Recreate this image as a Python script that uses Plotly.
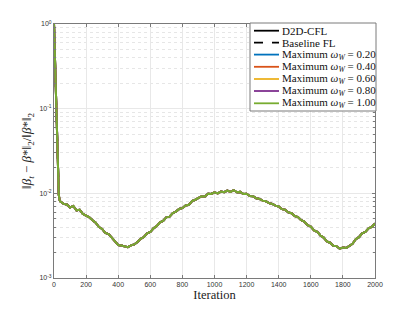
import plotly.graph_objects as go

iterations = [0, 3, 6, 9, 12, 15, 18, 21, 24, 27, 30, 35,
              40, 60, 80, 100, 120, 140, 160, 180, 200, 220, 240, 260, 280, 300,
              320, 340, 360, 380, 400, 420, 440, 460, 480, 500, 520, 540, 560, 580,
              600, 620, 640, 660, 680, 700, 720, 740, 760, 780, 800, 820, 840, 860,
              880, 900, 920, 940, 960, 980, 1000, 1020, 1040, 1060, 1080, 1100, 1120,
              1140, 1160, 1180, 1200, 1220, 1240, 1260, 1280, 1300, 1320, 1340, 1360,
              1380, 1400, 1420, 1440, 1460, 1480, 1500, 1520, 1540, 1560, 1580, 1600,
              1620, 1640, 1660, 1680, 1700, 1720, 1740, 1760, 1780, 1800, 1820, 1840,
              1860, 1880, 1900, 1920, 1940, 1960, 1980, 2000]

error_values = [1.0, 0.6, 0.3, 0.16, 0.095, 0.06, 0.04, 0.028, 0.019, 0.013, 0.0095, 0.0083,
                0.0080, 0.0075, 0.0074, 0.0068, 0.0071, 0.0063, 0.0064, 0.0057, 0.0054, 0.0052,
                0.0048, 0.0045, 0.0040, 0.0038, 0.0034, 0.0033, 0.0030, 0.00275, 0.00245,
                0.00242, 0.00238, 0.00231, 0.00243, 0.00249, 0.00266, 0.00290, 0.00305,
                0.00336, 0.00349, 0.00386, 0.00410, 0.00455, 0.00472, 0.00520, 0.00530,
                0.00585, 0.00608, 0.00655, 0.00668, 0.00718, 0.00732, 0.00810, 0.00840,
                0.00880, 0.00925, 0.00920, 0.00990, 0.00985, 0.0103, 0.0100, 0.0105, 0.0103,
                0.0108, 0.0104, 0.0109, 0.0103, 0.0104, 0.0098, 0.00990, 0.00930, 0.00925,
                0.00875, 0.00860, 0.00820, 0.00805, 0.00765, 0.00750, 0.00715, 0.00700,
                0.00650, 0.00640, 0.00595, 0.00582, 0.00540, 0.00525, 0.00482, 0.00465,
                0.00420, 0.00404, 0.00365, 0.00352, 0.00318, 0.00300, 0.00270, 0.00261,
                0.00240, 0.00238, 0.00222, 0.00229, 0.00226, 0.00241, 0.00253, 0.00287,
                0.00304, 0.00337, 0.00350, 0.00386, 0.00402, 0.00440]

series_names = ["D2D-CFL", "Baseline FL",
                "Maximum <i>ω<sub>W</sub></i> = 0.20",
                "Maximum <i>ω<sub>W</sub></i> = 0.40",
                "Maximum <i>ω<sub>W</sub></i> = 0.60",
                "Maximum <i>ω<sub>W</sub></i> = 0.80",
                "Maximum <i>ω<sub>W</sub></i> = 1.00"]
series_colors = ["#000000", "#000000", "#0072BD", "#D95319", "#EDB120", "#7E2F8E", "#77AC30"]
series_dash = ["solid", "dash", "solid", "solid", "solid", "solid", "solid"]

x_ticks = [0, 200, 400, 600, 800, 1000, 1200, 1400, 1600, 1800, 2000]
y_ticks = [1e-3, 1e-2, 1e-1, 1e0]
y_tick_text = ["10<sup>-3</sup>", "10<sup>-2</sup>", "10<sup>-1</sup>", "10<sup>0</sup>"]
y_minor = [m * 10.0 ** e for e in (-3, -2, -1) for m in range(2, 10)]

W, H = 415, 312
ML, MR, MT, MB = 54, 40, 24, 34
PW, PH = W - ML - MR, H - MT - MB


def px_x(p):
    return (p - ML) / PW


def px_y(p):
    return (H - MB - p) / PH


fig = go.Figure()
for name, color, dash in zip(series_names, series_colors, series_dash):
    fig.add_trace(go.Scatter(x=iterations, y=error_values, mode="lines", name=name,
                             showlegend=False,
                             line=dict(color=color, width=2, dash=dash)))

axis_color = "#7a7a7a"
fig.update_xaxes(range=[0, 2000], tickvals=x_ticks, ticks="inside", ticklen=3,
                 tickcolor=axis_color, showline=True, linecolor=axis_color, linewidth=1,
                 mirror="ticks", showgrid=True, gridcolor="#e8e8e8", gridwidth=1,
                 zeroline=False, tickfont=dict(family="Liberation Sans", size=7, color="#333"),
                 title=dict(text="Iteration", font=dict(family="Liberation Serif", size=12.5, color="#222"),
                            standoff=2))
fig.update_yaxes(type="log", range=[-3, 0], tickvals=y_ticks, ticktext=y_tick_text,
                 ticks="inside", ticklen=3, tickcolor=axis_color, showline=True,
                 linecolor=axis_color, linewidth=1, mirror="ticks", showgrid=True,
                 gridcolor="#e8e8e8", gridwidth=1, zeroline=False,
                 tickfont=dict(family="Liberation Sans", size=7, color="#333"),
                 minor=dict(tickvals=y_minor, ticks="inside", ticklen=2, tickcolor=axis_color,
                            showgrid=True, gridcolor="#e6e6e6", griddash="dot", gridwidth=1))

# y-axis title placed as annotation for exact position
fig.add_annotation(text="‖<i>β<sub>t</sub></i> − <i>β</i>*‖<sub>2</sub>/‖<i>β</i>*‖<sub>2</sub>",
                   xref="paper", yref="paper", x=px_x(27), y=px_y(151), textangle=-90,
                   showarrow=False, xanchor="center", yanchor="middle",
                   font=dict(family="Liberation Serif", size=13, color="#222"))

# legend drawn manually (MATLAB-style compact legend)
fig.add_shape(type="rect", xref="paper", yref="paper",
              x0=px_x(250), x1=px_x(376), y0=px_y(111), y1=px_y(23),
              fillcolor="white", line=dict(color="#7a7a7a", width=1), layer="above")
row_y = [30.7, 42.7, 54.6, 66.8, 79.0, 91.0, 103.3]
for name, color, dash, ry in zip(series_names, series_colors, series_dash, row_y):
    fig.add_shape(type="line", xref="paper", yref="paper",
                  x0=px_x(254), x1=px_x(279), y0=px_y(ry), y1=px_y(ry),
                  line=dict(color=color, width=1.8, dash=dash), layer="above")
    fig.add_annotation(text=name, xref="paper", yref="paper", x=px_x(281), y=px_y(ry),
                       xanchor="left", yanchor="middle", showarrow=False, borderpad=0,
                       font=dict(family="Liberation Serif", size=11, color="#111"))

fig.update_layout(width=W, height=H, margin=dict(l=ML, r=MR, t=MT, b=MB),
                  paper_bgcolor="white", plot_bgcolor="white", showlegend=False)

fig.write_html("out.html", config={"displayModeBar": False},
               post_script="document.body.style.margin='0';document.body.style.padding='0';")
